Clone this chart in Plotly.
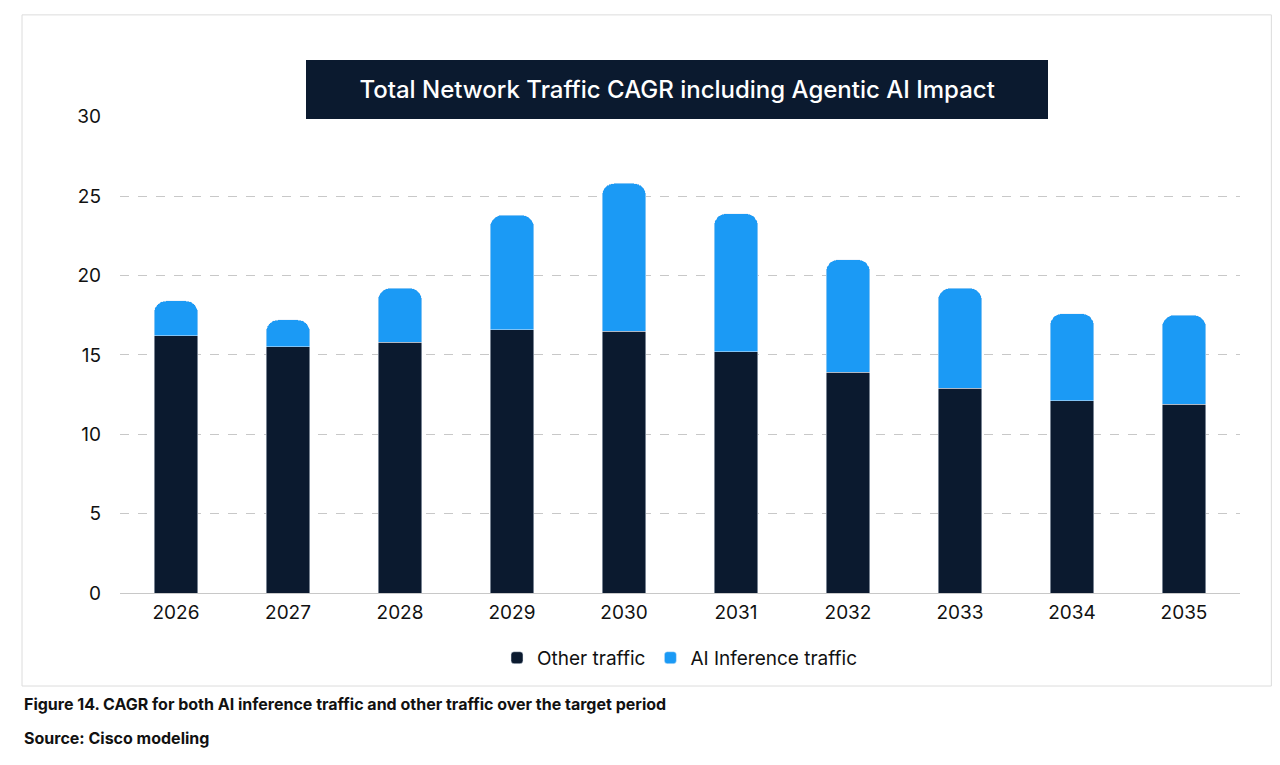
import plotly.graph_objects as go

years = ["2026", "2027", "2028", "2029", "2030", "2031", "2032", "2033", "2034", "2035"]
other_traffic = [16.2, 15.5, 15.8, 16.6, 16.5, 15.2, 13.9, 12.9, 12.1, 11.9]
total_cagr = [18.4, 17.2, 19.2, 23.8, 25.8, 23.9, 21.0, 19.2, 17.6, 17.5]
ai_traffic = [round(t - o, 1) for t, o in zip(total_cagr, other_traffic)]

fnt = "Inter, Roboto, sans-serif"
fig = go.Figure()
fig.add_bar(x=years, y=other_traffic, name="Other traffic", marker_color="#0b1a2f", width=0.39)
fig.add_bar(x=years, y=ai_traffic, name="AI Inference traffic", marker_color="#1b9af5", width=0.39)

fig.update_layout(
    barmode="stack", barcornerradius=12,
    width=1280, height=765, paper_bgcolor="white", plot_bgcolor="white",
    margin=dict(l=112, r=48, t=108, b=180),
    font=dict(family=fnt, size=19, color="#111"),
    yaxis=dict(range=[0, 30.05], tickvals=[0, 5, 10, 15, 20, 25, 30], ticksuffix="%",
               showgrid=True, gridcolor="#c8c8c8", griddash="dash", zeroline=False,
               ticks="", ticklabelstandoff=18),
    xaxis=dict(showline=True, linecolor="#c8c8c8", ticks="", ticklabelstandoff=2),
    legend=dict(orientation="h", x=0.5, xanchor="center", y=-0.136, yanchor="middle",
                font=dict(size=19), itemwidth=30, traceorder="normal"),
    showlegend=True,
)
fig.add_shape(type="rect", xref="paper", yref="paper", x0=-0.0875, x1=1.028, y0=-0.195, y1=1.212,
              line=dict(color="#dcdcdc", width=1))
fig.add_annotation(text="      Total Network Traffic CAGR including Agentic AI Impact      ",
                   xref="paper", yref="paper", x=0.497, y=1.117, showarrow=False,
                   bgcolor="#0b1a2f", bordercolor="#0b1a2f", borderpad=14,
                   font=dict(color="white", size=24, family=fnt, weight=500))
fig.add_annotation(text="<b>Figure 14. CAGR for both AI inference traffic and other traffic over the target period</b>",
                   xref="paper", yref="paper", x=-0.0875, y=-0.258, xanchor="left", showarrow=False,
                   font=dict(size=16, color="#111"))
fig.add_annotation(text="<b>Source: Cisco modeling</b>", xref="paper", yref="paper", x=-0.0875, y=-0.329,
                   xanchor="left", showarrow=False, font=dict(size=16, color="#111"))
fig.write_html("out.html")
